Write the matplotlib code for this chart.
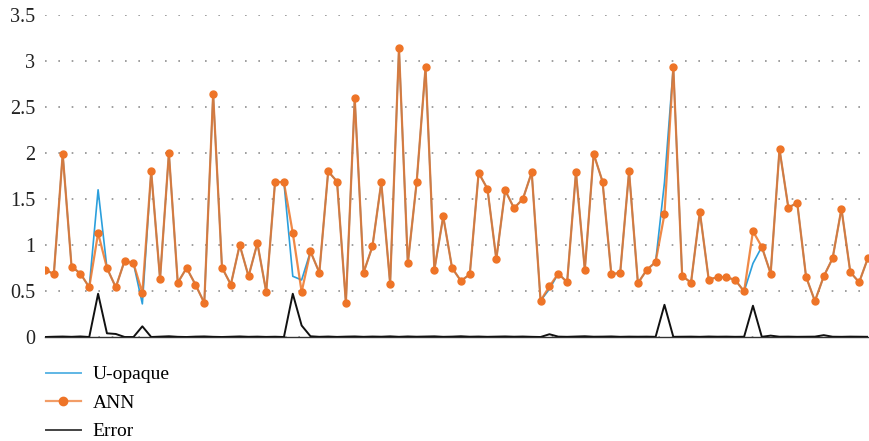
import matplotlib.pyplot as plt
import numpy as np
from matplotlib.lines import Line2D

plt.rcParams["font.family"] = ["Liberation Serif", "DejaVu Serif"]

ann = [
    0.73, 0.685, 1.99, 0.765, 0.69, 0.54, 1.13, 0.75, 0.54, 0.83,
    0.80, 0.48, 1.80, 0.63, 2.00, 0.59, 0.75, 0.57, 0.37, 2.645,
    0.755, 0.57, 1.00, 0.66, 1.02, 0.49, 1.69, 1.68, 1.13, 0.49,
    0.93, 0.70, 1.80, 1.69, 0.37, 2.595, 0.70, 0.985, 1.68, 0.58,
    3.14, 0.80, 1.685, 2.93, 0.73, 1.31, 0.75, 0.61, 0.68, 1.785,
    1.61, 0.845, 1.595, 1.40, 1.50, 1.79, 0.395, 0.55, 0.69, 0.595,
    1.79, 0.73, 1.99, 1.69, 0.68, 0.70, 1.80, 0.585, 0.73, 0.815,
    1.335, 2.935, 0.665, 0.59, 1.36, 0.625, 0.65, 0.65, 0.62, 0.495,
    1.15, 0.98, 0.69, 2.04, 1.405, 1.46, 0.655, 0.39, 0.66, 0.855,
    1.395, 0.705, 0.595, 0.86,
]

u_opaque = [
    0.73, 0.685, 1.99, 0.765, 0.69, 0.54, 1.60, 0.75, 0.54, 0.83,
    0.80, 0.36, 1.80, 0.63, 2.00, 0.59, 0.75, 0.57, 0.37, 2.645,
    0.755, 0.57, 1.00, 0.66, 1.02, 0.49, 1.69, 1.68, 0.66, 0.62,
    0.93, 0.70, 1.80, 1.69, 0.37, 2.595, 0.70, 0.985, 1.68, 0.58,
    3.14, 0.80, 1.685, 2.93, 0.73, 1.31, 0.75, 0.61, 0.68, 1.785,
    1.61, 0.845, 1.595, 1.40, 1.50, 1.79, 0.395, 0.52, 0.69, 0.595,
    1.79, 0.73, 1.99, 1.69, 0.68, 0.70, 1.80, 0.585, 0.73, 0.815,
    1.68, 2.935, 0.665, 0.59, 1.36, 0.625, 0.65, 0.65, 0.62, 0.495,
    0.80, 0.98, 0.69, 2.04, 1.405, 1.46, 0.655, 0.39, 0.66, 0.855,
    1.395, 0.705, 0.595, 0.86,
]

error = [
    0.0, 0.003, 0.005, 0.002, 0.006, 0.0, 0.47, 0.04, 0.033, 0.0,
    0.0, 0.116, 0.0, 0.004, 0.008, 0.002, 0.0, 0.004, 0.006, 0.002,
    0.0, 0.003, 0.006, 0.002, 0.004, 0.001, 0.003, 0.0, 0.47, 0.125,
    0.008, 0.002, 0.005, 0.001, 0.004, 0.006, 0.002, 0.005, 0.003, 0.007,
    0.002, 0.006, 0.003, 0.005, 0.007, 0.002, 0.004, 0.008, 0.003, 0.005,
    0.002, 0.004, 0.006, 0.003, 0.005, 0.002, 0.0, 0.03, 0.004, 0.002,
    0.005, 0.008, 0.003, 0.004, 0.006, 0.002, 0.004, 0.003, 0.004, 0.002,
    0.35, 0.002, 0.003, 0.004, 0.002, 0.005, 0.003, 0.004, 0.002, 0.003,
    0.34, 0.002, 0.015, 0.003, 0.004, 0.002, 0.003, 0.004, 0.02, 0.003,
    0.002, 0.004, 0.003, 0.002,
]

y_ticks = [0, 0.5, 1, 1.5, 2, 2.5, 3, 3.5]
y_labels = ["0", "0.5", "1", "1.5", "2", "2.5", "3", "3.5"]

blue = "#2b9fdc"
orange = "#ee7427"
orange_line = (0.93, 0.455, 0.153, 0.85)

x = np.arange(len(ann))

fig = plt.figure(figsize=(8.69, 4.41), dpi=100)
ax = fig.add_axes([45 / 869, 104 / 441, 823 / 869, 322 / 441])

ax.plot(x, u_opaque, color=blue, lw=1.2, zorder=3)
ax.plot(x, ann, color=orange_line, lw=1.6, marker="o", ms=5,
        markerfacecolor=orange, markeredgecolor=orange, zorder=4)
ax.plot(x, error, color="#111111", lw=1.4, zorder=5)

ax.set_xlim(0, len(ann) - 1)
ax.set_ylim(0, 3.5)
ax.set_yticks(y_ticks)
ax.set_yticklabels(y_labels)
ax.set_xticks([])

ax.yaxis.grid(True, color="#8f8f8f", lw=1.2, linestyle=(0, (1, 7.0)))
ax.set_axisbelow(True)
for side in ("top", "right", "left"):
    ax.spines[side].set_visible(False)
ax.spines["bottom"].set_color("#333333")
ax.spines["bottom"].set_linewidth(1.0)
ax.tick_params(axis="y", length=0, pad=7, labelsize=14.5, labelcolor="#222222")

handles = [
    Line2D([], [], color=blue, lw=1.4, alpha=0.75),
    Line2D([], [], color=(0.93, 0.455, 0.153, 0.7), lw=1.6, marker="o", ms=6,
           markerfacecolor=orange, markeredgecolor=orange),
    Line2D([], [], color="#222222", lw=1.4, alpha=0.85),
]
fig.legend(handles, ["U-opaque", "ANN", "Error"], loc="upper left",
           bbox_to_anchor=(36 / 869, 1 - 356 / 441), frameon=False,
           fontsize=14, handlelength=1.8, handletextpad=0.62,
           labelspacing=0.56, borderpad=0)

fig.savefig("out.png", dpi=100, facecolor="white")
